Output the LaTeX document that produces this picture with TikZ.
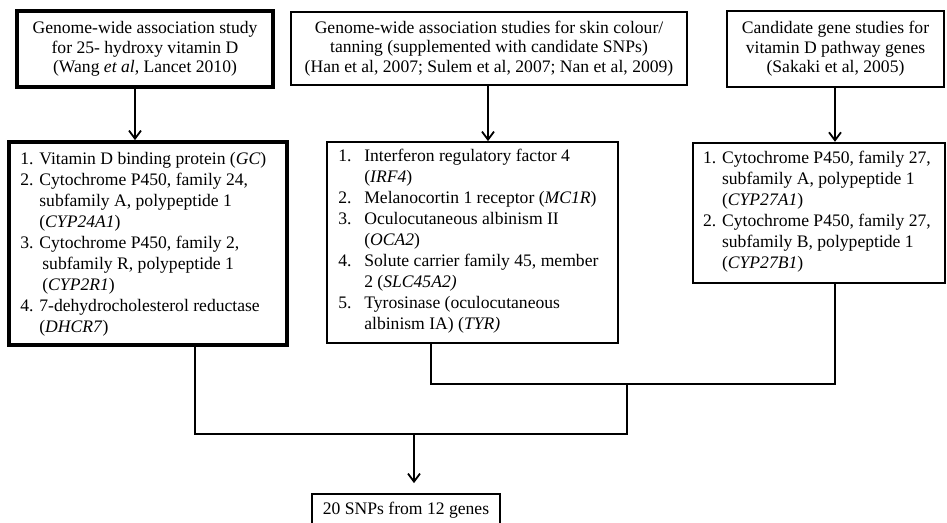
\documentclass[tikz,border=0pt]{standalone}
\usepackage{fontspec}
\setmainfont{Liberation Serif}
\usetikzlibrary{arrows.meta}
\tikzset{
  box/.style={draw, rectangle, inner sep=2pt, align=center,
    font=\fontsize{17.6}{19.6}\selectfont},
  heavybox/.style={box, line width=3.8pt},
  lightbox/.style={box, line width=1.8pt},
  midbox/.style={box, line width=2.4pt},
  listtext/.style={inner sep=0pt, align=left, anchor=west,
    font=\fontsize{17.6}{21}\selectfont},
  conn/.style={line width=1.8pt, line join=miter},
  arr/.style={conn, -{Straight Barb[length=8pt,width=12pt,line width=1.8pt]}}
}
\begin{document}
\begin{tikzpicture}[x=1pt,y=-1pt]
\useasboundingbox (0,0) rectangle (947,522);
\clip (0,0) rectangle (947,522);
\fill[white] (0,0) rectangle (947,522);

% top row
\node[heavybox, minimum width=256, minimum height=76] (b1) at (145,49)
  {Genome-wide association study\\ for 25- hydroxy vitamin D\\ (Wang \textit{et al}, Lancet 2010)};
\node[lightbox, minimum width=396, minimum height=73] (b2) at (489,48.5)
  {Genome-wide association studies for skin colour/\\ tanning (supplemented with candidate SNPs)\\ (Han et al, 2007; Sulem et al, 2007; Nan et al, 2009)};
\node[midbox, minimum width=217, minimum height=76] (b3) at (835.5,49)
  {Candidate gene studies for\\ vitamin D pathway genes\\ (Sakaki et al, 2005)};

% second row boxes
\node[heavybox, minimum width=278, minimum height=203] (bA) at (148,243.5) {};
\node[lightbox, minimum width=291, minimum height=201] (bB) at (472.5,242.5) {};
\node[midbox, minimum width=252, minimum height=140] (bC) at (819,213) {};

\node[listtext] (tA) at ([xshift=13pt,yshift=-1pt]bA.west)
  {1. Vitamin D binding protein (\textit{GC})\\
   2. Cytochrome P450, family 24,\\
   \hphantom{2. }subfamily A, polypeptide 1\\
   \hphantom{2. }(\textit{CYP24A1})\\
   3. Cytochrome P450, family 2,\\
   \hphantom{3. }\hspace*{3pt}subfamily R, polypeptide 1\\
   \hphantom{3. }\hspace*{3pt}(\textit{CYP2R1})\\
   4. 7-dehydrocholesterol reductase\\
   \hphantom{4. }(\textit{DHCR7})};

\node[listtext] (tB) at ([xshift=12pt,yshift=1pt]bB.west)
  {\makebox[26pt][l]{1.}Interferon regulatory factor 4\\
   \hspace*{26pt}(\textit{IRF4})\\
   \makebox[26pt][l]{2.}Melanocortin 1 receptor (\textit{MC1R})\\
   \makebox[26pt][l]{3.}Oculocutaneous albinism II\\
   \hspace*{26pt}(\textit{OCA2})\\
   \makebox[26pt][l]{4.}Solute carrier family 45, member\\
   \hspace*{26pt}2 (\textit{SLC45A2)}\\
   \makebox[26pt][l]{5.}Tyrosinase (oculocutaneous\\
   \hspace*{26pt}albinism IA) (\textit{TYR)}};

\node[listtext] (tC) at ([xshift=11pt,yshift=1pt]bC.west)
  {1. Cytochrome P450, family 27,\\
   \hphantom{1. }subfamily A, polypeptide 1\\
   \hphantom{1. }(\textit{CYP27A1})\\
   2. Cytochrome P450, family 27,\\
   \hphantom{2. }subfamily B, polypeptide 1\\
   \hphantom{2. }(\textit{CYP27B1})};

% final box
\node[lightbox, minimum width=188, minimum height=32] (fin) at (406,510)
  {20 SNPs from 12 genes};

% top arrows
\coordinate (x1) at (135,0);
\coordinate (x2) at (488,0);
\coordinate (x3) at (835,0);
\draw[arr] (b1.south -| x1) -- (bA.north -| x1);
\draw[arr] (b2.south -| x2) -- (bB.north -| x2);
\draw[arr] (b3.south -| x3) -- (bC.north -| x3);

% merging connectors
\coordinate (hB) at (431,384);
\coordinate (hC) at (835,384);
\coordinate (j1) at (627,384);
\coordinate (hA) at (195,434);
\coordinate (j2) at (627,434);
\coordinate (m) at (414,434);
\draw[conn] (bB.south -| hB) -- (hB) -- (hC) -- (bC.south -| hC);
\draw[conn] (bA.south -| hA) -- (hA) -- (j2) -- (j1);
\draw[arr] (m) -- ([yshift=10pt]fin.north -| m);
\end{tikzpicture}
\end{document}
